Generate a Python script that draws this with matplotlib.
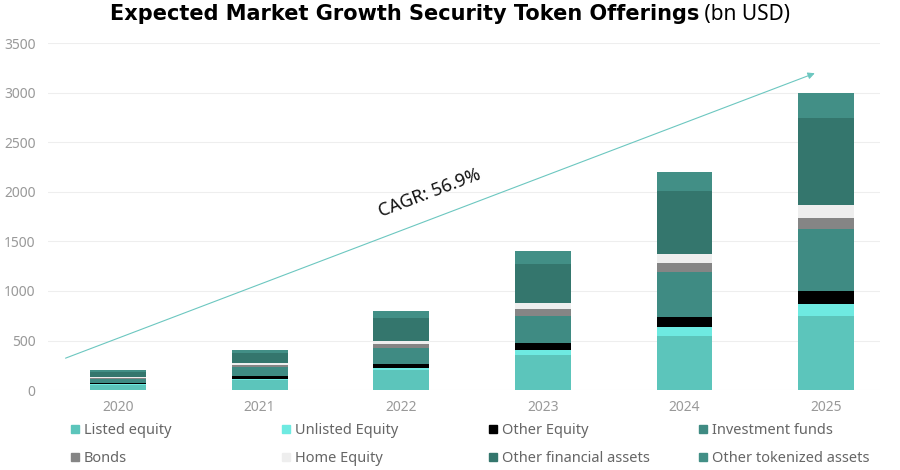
import numpy as np
import matplotlib.pyplot as plt
from matplotlib.lines import Line2D

plt.rcParams['font.family'] = ['Noto Sans', 'DejaVu Sans']

# dati (bn USD)
years = ['2020', '2021', '2022', '2023', '2024', '2025']
listed_equity = [50, 100, 200, 350, 550, 750]
unlisted_equity = [8, 15, 25, 50, 90, 120]
other_equity = [12, 25, 40, 70, 100, 125]
investment_funds = [40, 90, 160, 275, 450, 625]
bonds = [10, 20, 40, 70, 90, 120]
home_equity = [10, 20, 35, 60, 90, 130]
other_financial = [55, 100, 230, 400, 640, 875]
other_tokenized = [15, 30, 70, 125, 190, 255]

series = [
    ('Listed equity', listed_equity, '#5cc5bb'),
    ('Unlisted Equity', unlisted_equity, '#6eeae1'),
    ('Other Equity', other_equity, '#000000'),
    ('Investment funds', investment_funds, '#3f8b83'),
    ('Bonds', bonds, '#858585'),
    ('Home Equity', home_equity, '#eeeeee'),
    ('Other financial assets', other_financial, '#34766d'),
    ('Other tokenized assets', other_tokenized, '#428f86'),
]

fig = plt.figure(figsize=(9, 4.7), dpi=100)
ax = fig.add_axes([0.0533, 0.17, 0.9244, 0.7385])

x = np.arange(len(years))
bottom = np.zeros(len(years))
handles = []
for name, vals, col in series:
    ax.bar(x, vals, 0.395, bottom=bottom, color=col, label=name, zorder=2)
    bottom += np.array(vals)
    handles.append(Line2D([], [], marker='s', ls='', color=col, markersize=6, label=name))

ax.set_xlim(-0.494, 5.38)
ax.set_ylim(0, 3500)
ax.set_yticks(np.arange(0, 3501, 500))
ax.set_xticks(x)
ax.set_xticklabels(years)
ax.grid(axis='y', color='#eeeeee', lw=0.8, zorder=0)
for s in ax.spines.values():
    s.set_visible(False)
ax.tick_params(length=0, colors='#999999', labelsize=10)
ax.tick_params(axis='y', pad=9)
ax.tick_params(axis='x', pad=7)

# freccia CAGR
ax.annotate('', xy=(4.92, 3195), xytext=(-0.37, 322),
            arrowprops=dict(arrowstyle='-|>', color='#6cc7c0', lw=0.8,
                            mutation_scale=10, shrinkA=0, shrinkB=0))
ax.text(2.2, 1990, 'CAGR: 56.9%', rotation=20.8, ha='center', va='center',
        fontsize=13, color='#111111', rotation_mode='anchor')

# titolo in due parti
t1 = fig.text(0.5, 0.97, 'Expected Market Growth Security Token Offerings',
              fontsize=15, fontweight='bold', family='DejaVu Sans',
              ha='left', va='center')
t2 = fig.text(0.5, 0.97, ' (bn USD)', fontsize=15, ha='left', va='center')
fig.canvas.draw()
r = fig.canvas.get_renderer()
w1 = t1.get_window_extent(r).width / fig.bbox.width
w2 = t2.get_window_extent(r).width / fig.bbox.width
x0 = 0.5 - (w1 + w2) / 2
t1.set_x(x0)
t2.set_x(x0 + w1)

# legenda in quattro colonne
col_x = [0.075, 0.31, 0.54, 0.773]
for i, cx in enumerate(col_x):
    leg = fig.legend(handles=[handles[i], handles[i + 4]], loc='upper left',
                     bbox_to_anchor=(cx, 0.1), frameon=False, fontsize=10.5,
                     handletextpad=0.1, handlelength=1.0, labelspacing=0.9,
                     borderaxespad=0, borderpad=0)
    for t in leg.get_texts():
        t.set_color('#666666')

fig.savefig('out.png', dpi=100)
